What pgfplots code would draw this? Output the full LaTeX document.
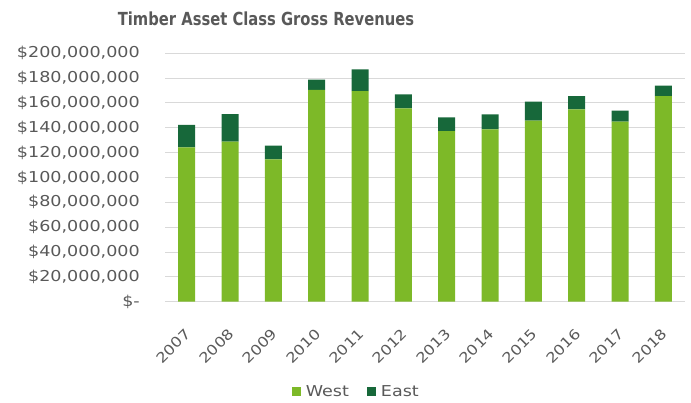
\documentclass[border=0pt]{standalone}
\usepackage{pgfplots}
\pgfplotsset{compat=1.18}
\usepackage{fontspec}
\setmainfont{DejaVu Sans}[FakeStretch=1.17]
\newfontfamily\titlefont{DejaVu Sans}[FakeStretch=0.82]
\definecolor{west}{HTML}{7DB928}
\definecolor{east}{HTML}{17683A}
\definecolor{txt}{HTML}{595959}
\definecolor{gridc}{HTML}{D9D9D9}
\begin{document}
\begin{tikzpicture}[x=1pt,y=1pt]
\path[use as bounding box] (0,0) rectangle (691,403);
\node[font=\titlefont\bfseries\fontsize{18}{21}\selectfont, text=txt] at (266,384) {Timber Asset Class Gross Revenues};
\begin{axis}[
  at={(165pt,101.3pt)}, anchor=south west,
  scale only axis, width=520pt, height=248.4pt,
  ybar stacked, bar width=17pt,
  xmin=-0.5, xmax=11.5, ymin=0, ymax=200,
  xtick={0,...,11},
  xticklabels={2007,2008,2009,2010,2011,2012,2013,2014,2015,2016,2017,2018},
  ytick={0,20,...,200},
  yticklabels={\$-\hspace{7pt},{\$20,000,000},{\$40,000,000},{\$60,000,000},{\$80,000,000},{\$100,000,000},{\$120,000,000},{\$140,000,000},{\$160,000,000},{\$180,000,000},{\$200,000,000}},
  axis x line*=bottom, axis y line*=left,
  y axis line style={draw=none},
  x axis line style={draw=gridc, line width=1pt},
  major tick length=0pt,
  ymajorgrids, grid style={draw=gridc, line width=1pt},
  tick label style={font=\fontsize{15}{18}\selectfont, text=txt},
  yticklabel style={anchor=east, inner sep=0pt, xshift=-25pt},
  xticklabel style={font=\fontsize{14}{17}\selectfont, rotate=45, anchor=east, inner sep=0pt, yshift=-22pt, xshift=-20pt},
  legend style={at={(axis description cs:0.368,-0.3635)}, anchor=center, draw=none, fill=none,
    font=\fontsize{15}{18}\selectfont, text=txt, legend columns=2,
    /tikz/every even column/.append style={column sep=16pt}},
  legend image code/.code={\fill[#1] (0pt,-4.5pt) rectangle (9pt,4.5pt); \path (12pt,0pt);},
]
\addplot[fill=west, draw=none] coordinates {(0,124.3) (1,128.8) (2,114.6) (3,170.5) (4,169.6) (5,155.7) (6,137.4) (7,138.8) (8,145.7) (9,154.9) (10,144.9) (11,165.6)};
\addplot[fill=east, draw=none] coordinates {(0,18.0) (1,22.3) (2,11.0) (3,8.2) (4,17.5) (5,11.3) (6,11.1) (7,12.1) (8,15.3) (9,10.7) (10,8.9) (11,8.3)};
\legend{West,East}
\end{axis}
\end{tikzpicture}
\end{document}
